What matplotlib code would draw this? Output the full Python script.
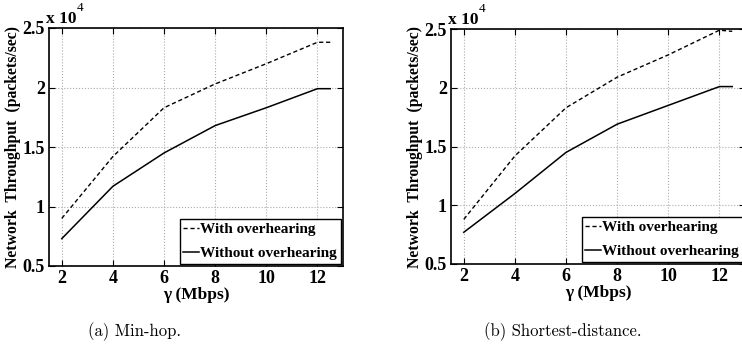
import matplotlib
matplotlib.use("Agg")
from matplotlib import pyplot as plt

# data (x 10^4 packets/sec)
gamma = [2, 4, 6, 8, 10, 12, 12.5]
minhop_with = [0.90, 1.42, 1.83, 2.03, 2.20, 2.38, 2.38]
minhop_without = [0.73, 1.17, 1.45, 1.68, 1.83, 1.99, 1.99]
short_with = [0.88, 1.42, 1.83, 2.09, 2.28, 2.49, 2.48]
short_without = [0.77, 1.10, 1.45, 1.69, 1.85, 2.01, 2.01]
xticks = [2, 4, 6, 8, 10, 12]
yticks = [0.5, 1, 1.5, 2, 2.5]
ytick_labels = ["0.5", "1", "1.5", "2", "2.5"]
labels = ["With overhearing", "Without overhearing"]
captions = ["(a) Min-hop.", "(b) Shortest-distance."]

plt.rcParams['font.family'] = ['Liberation Serif', 'DejaVu Serif']
plt.rcParams['font.weight'] = 'bold'

W, H = 742, 360
fig = plt.figure(figsize=(W / 100, H / 100), dpi=100)

def px_axes(x0, x1, ytop, ybot):
    return fig.add_axes([x0 / W, 1 - ybot / H, (x1 - x0) / W, (ybot - ytop) / H])

def draw(ax, yw, ywo):
    ax.plot(gamma, yw, color='black', lw=1.0, ls=(0, (3, 2)), label=labels[0])
    ax.plot(gamma, ywo, color='black', lw=1.1, ls='-', label=labels[1])
    ax.set_xlim(1.5, 13)
    ax.set_ylim(0.5, 2.5)
    ax.set_xticks(xticks)
    ax.set_yticks(yticks)
    ax.set_yticklabels(ytick_labels)
    ax.tick_params(direction='in', labelsize=13, length=4, width=0.8, pad=3,
                   top=True, right=True)
    for lab in ax.get_xticklabels() + ax.get_yticklabels():
        lab.set_fontweight('bold')
    ax.grid(True, ls=':', color='#aaaaaa', lw=0.8)
    for s in ax.spines.values():
        s.set_linewidth(1.2)
    ax.set_xlabel("γ (Mbps)", fontsize=12.5, fontweight='bold', labelpad=0)
    ax.set_ylabel("Network  Throughput  (packets/sec)", fontsize=11.3,
                  fontweight='bold', labelpad=1)
    ax.text(-0.01, 1.005, "x 10", transform=ax.transAxes,
            fontsize=12.5, fontweight='bold', ha='left', va='bottom')
    ax.text(0.095, 1.06, "4", transform=ax.transAxes,
            fontsize=9.5, fontweight='normal', ha='left', va='bottom')
    leg = ax.legend(loc='lower right', handlelength=1.0,
                    handletextpad=0.1, borderpad=0.25, labelspacing=0.65,
                    borderaxespad=0.15, fancybox=False, framealpha=1,
                    edgecolor='black', prop={'weight': 'bold', 'size': 11})
    leg.get_frame().set_linewidth(1.0)

ax1 = px_axes(49, 343, 28, 266)
draw(ax1, minhop_with, minhop_without)
ax2 = px_axes(451, 745, 29, 264)
draw(ax2, short_with, short_without)

fig.text(134 / W, 1 - 332 / H, captions[0], family='cmr10', fontsize=12,
         ha='center', va='center', fontweight='normal')
fig.text(563 / W, 1 - 332 / H, captions[1], family='cmr10', fontsize=12,
         ha='center', va='center', fontweight='normal')

fig.savefig("out.png", dpi=100)
